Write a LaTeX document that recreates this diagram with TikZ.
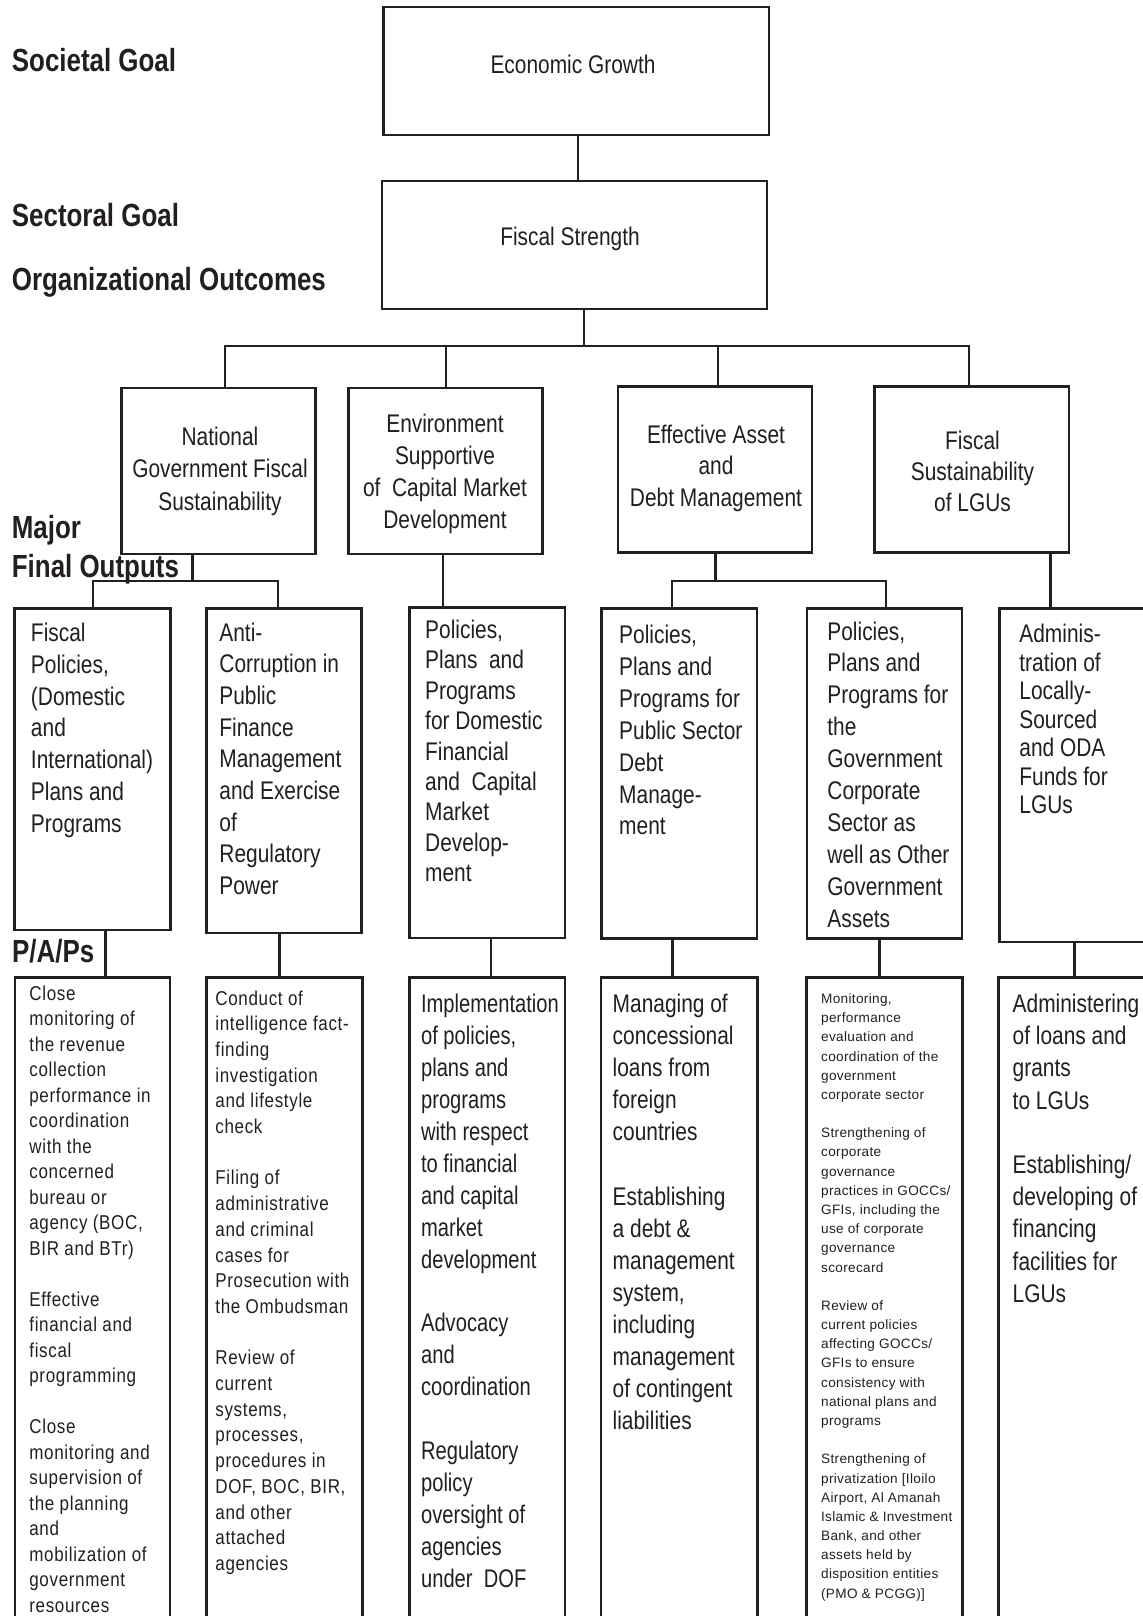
\documentclass[tikz,border=0pt]{standalone}
\usepackage{fontspec}
\setmainfont{Liberation Sans}
\newfontfamily\condf[FakeStretch=0.82]{Liberation Sans}
\newfontfamily\narrf[FakeStretch=0.79]{Liberation Sans}
\newfontfamily\headf[FakeStretch=0.81]{Liberation Sans}
\newfontfamily\trackf[FakeStretch=0.85,LetterSpace=3.3]{Liberation Sans}
\newfontfamily\finef[LetterSpace=2.5]{Liberation Sans}
\usetikzlibrary{fit}
\definecolor{ink}{RGB}{35,31,32}
% stacked lines, baseline at the first line
\newcommand\stack[1]{\parbox[t]{300pt}{\raggedright #1}}
\newcommand\cstack[1]{\parbox[t]{150pt}{\centering #1}}
\newcommand\gap{\\\mbox{}\\}

\begin{document}
\begin{tikzpicture}[x=0.5pt,y=-0.5pt,
  bx/.style={draw=ink, line width=1.3pt, inner sep=0pt, outer sep=0pt},
  ln/.style={draw=ink, line width=1.3pt},
  head/.style={anchor=base west, inner sep=0pt, text=ink,
    font=\headf\bfseries\fontsize{16}{19}\selectfont},
  ctr/.style={anchor=base, inner sep=0pt, text=ink,
    font=\condf\fontsize{12.75}{#1}\selectfont},
  lft/.style={anchor=base west, inner sep=0pt, text=ink,
    font=\condf\fontsize{12.75}{#1}\selectfont},
  nrw/.style={anchor=base west, inner sep=0pt, text=ink,
    font=\narrf\fontsize{12.75}{#1}\selectfont},
  trk/.style={anchor=base west, inner sep=0pt, text=ink,
    font=\trackf\fontsize{10}{#1}\selectfont},
  fine/.style={anchor=base west, inner sep=0pt, text=ink,
    font=\finef\fontsize{6.8}{#1}\selectfont}]

\useasboundingbox (0,0) rectangle (1143,1616);
\fill[white] (0,0) rectangle (1143,1616);
\clip (0,0) rectangle (1143,1616);

% level labels
\node[head] (l_soc) at (11.5,71.7) {Societal Goal};
\node[head] (l_sec) at (11.5,226.7) {Sectoral Goal};
\node[head] (l_org) at (11.5,290) {Organizational Outcomes};
\node[head] (l_maj) at (11.5,538) {Major};
\node[head] (l_fin) at (11.5,577) {Final Outputs};
\node[head] (l_pap) at (11.7,962) {P/A/Ps};

% goals
\node[bx, fit={(383.5,7) (769,135)}] (b_eg) {};
\node[ctr=16] (t_eg) at (573,74) {Economic Growth};
\node[bx, fit={(382,181) (767,309)}] (b_fs) {};
\node[ctr=16] (t_fs) at (570,245) {Fiscal Strength};

% organizational outcomes
\node[bx, fit={(121.7,388) (315.7,554)}] (b_og1) {};
\node[bx, fit={(348.3,388) (542.7,554)}] (b_og2) {};
\node[bx, fit={(618,386.5) (812,552.5)}] (b_og3) {};
\node[bx, fit={(874.5,386.5) (1069,552.5)}] (b_og4) {};
\node[ctr=16.25] (t_og1) at (220,445) {\cstack{National\\Government Fiscal\\Sustainability}};
\node[ctr=15.95] (t_og2) at (445,432.7) {\cstack{Environment\\Supportive\\of~ Capital Market\\Development}};
\node[ctr=15.75] (t_og3) at (716,443) {\cstack{Effective Asset\\and\\Debt Management}};
\node[ctr=15.6] (t_og4) at (972.5,449) {\cstack{Fiscal\\Sustainability\\of LGUs}};

% major final outputs
\node[bx, fit={(14.5,608.6) (170.3,930)}] (b_m1) {};
\node[bx, fit={(206.7,608.6) (361.7,933)}] (b_m2) {};
\node[bx, fit={(409.5,607.5) (565,937.8)}] (b_m3) {};
\node[bx, fit={(601.4,608.6) (757,938.6)}] (b_m4) {};
\node[bx, fit={(807,608.6) (962,938.6)}] (b_m5) {};
\node[bx, fit={(999.3,608.6) (1160,942)}] (b_m6) {};
\node[lft=15.9] (t_m1) at (30.6,641.5) {\stack{Fiscal\\Policies,\\(Domestic\\and\\International)\\Plans and\\Programs}};
\node[lft=15.85] (t_m2) at (219,641) {\stack{Anti-\\Corruption in\\Public\\Finance\\Management\\and Exercise\\of\\Regulatory\\Power}};
\node[lft=15.2] (t_m3) at (424.8,638.5) {\stack{Policies,\\Plans~ and\\Programs\\for Domestic\\Financial\\and~ Capital\\Market\\Develop-\\ment}};
\node[lft=15.95] (t_m4) at (618.8,643.5) {\stack{Policies,\\Plans and\\Programs for\\Public Sector\\Debt\\Manage-\\ment}};
\node[lft=15.95] (t_m5) at (827,640) {\stack{Policies,\\Plans and\\Programs for\\the\\Government\\Corporate\\Sector as\\well as Other\\Government\\Assets}};
\node[lft=14.25] (t_m6) at (1019,642.5) {\stack{Adminis-\\tration of\\Locally-\\Sourced\\and ODA\\Funds for\\LGUs}};

% programs, activities and projects
\node[bx, fit={(15,977.7) (170,1640)}] (b_p1) {};
\node[bx, fit={(206.7,977.7) (362.3,1640)}] (b_p2) {};
\node[bx, fit={(409.3,977.7) (565,1640)}] (b_p3) {};
\node[bx, fit={(601,977.7) (757.7,1640)}] (b_p4) {};
\node[bx, fit={(806.7,977.7) (962.7,1640)}] (b_p5) {};
\node[bx, fit={(998.3,977.7) (1160,1640)}] (b_p6) {};

\node[trk=12.74] (t_p1) at (29,1000.5) {\stack{Close\\monitoring of\\the revenue\\collection\\performance in\\coordination\\with the\\concerned\\bureau or\\agency (BOC,\\BIR and BTr)\gap
Effective\\financial and\\fiscal\\programming\gap
Close\\monitoring and\\supervision of\\the planning\\and\\mobilization of\\government\\resources}};
\node[trk=12.85] (t_p2) at (215,1005) {\stack{Conduct of\\intelligence fact-\\finding\\investigation\\and lifestyle\\check\gap
Filing of\\administrative\\and criminal\\cases for\\Prosecution with\\the Ombudsman\gap
Review of\\current\\systems,\\processes,\\procedures in\\DOF, BOC, BIR,\\and other\\attached\\agencies}};
\node[nrw=15.97] (t_p3) at (420.7,1012.5) {\stack{Implementation\\of policies,\\plans and\\programs\\with respect\\to financial\\and capital\\market\\development\gap
Advocacy\\and\\coordination\gap
Regulatory\\policy\\oversight of\\agencies\\under~ DOF}};
\node[lft=16.05] (t_p4) at (612.3,1012.5) {\stack{Managing of\\concessional\\loans from\\foreign\\countries\gap
Establishing\\a debt \&\\management\\system,\\including\\management\\of contingent\\liabilities}};
\node[fine=9.59] (t_p5) at (820.7,1003.5) {\stack{Monitoring,\\performance\\evaluation and\\coordination of the\\government\\corporate sector\gap
Strengthening of\\corporate\\governance\\practices in GOCCs/\\GFIs, including the\\use of corporate\\governance\\scorecard\gap
Review of\\current policies\\affecting GOCCs/\\GFIs to ensure\\consistency with\\national plans and\\programs\gap
Strengthening of\\privatization [Iloilo\\Airport, Al Amanah\\Islamic \& Investment\\Bank, and other\\assets held by\\disposition entities\\(PMO \& PCGG)]}};
\node[lft=16.1] (t_p6) at (1012.3,1012.5) {\stack{Administering\\of loans and\\grants\\to LGUs\gap
Establishing/\\developing of\\financing\\facilities for\\LGUs}};

% connector junctions
\coordinate (c0) at (578,160);
\coordinate (j0) at (584,346);
\coordinate (j1) at (225,346);
\coordinate (j2) at (446,346);
\coordinate (j3) at (718,346);
\coordinate (j4) at (969,346);
\coordinate (k0) at (192.5,581);
\coordinate (k1) at (93,581);
\coordinate (k2) at (278,581);
\coordinate (v3) at (443,581);
\coordinate (e0) at (715.7,581);
\coordinate (e1) at (672,581);
\coordinate (e2) at (886,581);
\coordinate (v6) at (1050.4,581);
\coordinate (q1) at (105.7,960);
\coordinate (q2) at (279.3,960);
\coordinate (q3) at (491,960);
\coordinate (q4) at (672.7,960);
\coordinate (q5) at (879.3,960);
\coordinate (q6) at (1074.3,960);

% connectors
\draw[ln] (b_eg.south -| c0) -- (b_fs.north -| c0);
\draw[ln] (b_fs.south -| j0) -- (j0);
\draw[ln] (b_og1.north -| j1) -- (j1) -- (j4) -- (b_og4.north -| j4);
\draw[ln] (j2) -- (b_og2.north -| j2);
\draw[ln] (j3) -- (b_og3.north -| j3);

\draw[ln] (b_og1.south -| k0) -- (k0);
\draw[ln] (b_m1.north -| k1) -- (k1) -- (k2) -- (b_m2.north -| k2);
\draw[ln] (b_og2.south -| v3) -- (b_m3.north -| v3);
\draw[ln] (b_og3.south -| e0) -- (e0);
\draw[ln] (b_m4.north -| e1) -- (e1) -- (e2) -- (b_m5.north -| e2);
\draw[ln] (b_og4.south -| v6) -- (b_m6.north -| v6);

\draw[ln] (b_m1.south -| q1) -- (b_p1.north -| q1);
\draw[ln] (b_m2.south -| q2) -- (b_p2.north -| q2);
\draw[ln] (b_m3.south -| q3) -- (b_p3.north -| q3);
\draw[ln] (b_m4.south -| q4) -- (b_p4.north -| q4);
\draw[ln] (b_m5.south -| q5) -- (b_p5.north -| q5);
\draw[ln] (b_m6.south -| q6) -- (b_p6.north -| q6);
\end{tikzpicture}
\end{document}
